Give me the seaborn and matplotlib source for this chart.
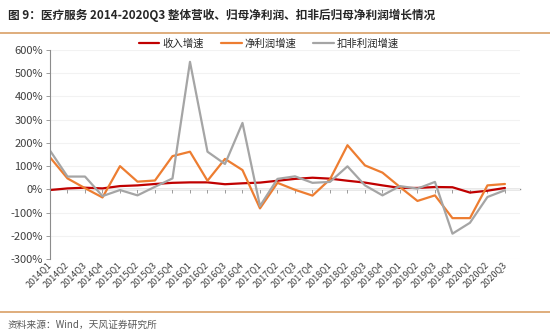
import matplotlib
matplotlib.use("Agg")
import matplotlib.pyplot as plt
import matplotlib.transforms as mtransforms
import seaborn as sns
import pandas as pd
from matplotlib.ticker import FuncFormatter

quarters = [f"{y}Q{q}" for y in range(2014, 2021) for q in range(1, 5)][:27]

revenue = [-3, 4, 7, 4, 14, 17, 23, 28, 30, 30, 22, 26, 29, 37, 45, 50, 46, 37, 29, 17, 6, 6, 10, 9, -14, -6, 6]
net_profit = [138, 47, 5, -35, 100, 33, 38, 143, 162, 37, 131, 83, -82, 28, -2, -27, 43, 190, 103, 72, 10, -50, -26, -124, -124, 17, 23]
deducted = [167, 55, 55, -29, -3, -26, 11, 47, 549, 162, 109, 286, -72, 45, 56, 28, 32, 99, 17, -26, 14, 3, 32, -191, -144, -33, -4]

series_names = ["收入增速", "净利润增速", "扣非利润增速"]
colors = ["#C00000", "#ED7D31", "#A5A5A5"]

df = pd.concat([
    pd.DataFrame({"idx": range(len(quarters)), "value": vals, "series": name})
    for name, vals in zip(series_names, [revenue, net_profit, deducted])
])

sns.set_theme(style="white")
plt.rcParams['font.family'] = ['Noto Sans CJK SC', 'DejaVu Sans']
plt.rcParams['axes.unicode_minus'] = False

fig = plt.figure(figsize=(5.5, 3.34), dpi=100)
ax = fig.add_axes([50/550, 75/334, 470/550, 209/334])

sns.lineplot(data=df, x="idx", y="value", hue="series", palette=colors,
             hue_order=series_names, linewidth=1.6, ax=ax, legend=True)

ax.set_xlim(0, 26.86)
ax.set_ylim(-300, 600)
ax.set_yticks(range(-300, 601, 100))
ax.yaxis.set_major_formatter(FuncFormatter(lambda v, p: f"{int(v)}%"))
ax.set_xticks(range(len(quarters)))
ax.set_xticklabels(quarters, rotation=45, ha="right", va="center", rotation_mode="anchor")
offset = mtransforms.ScaledTranslation(4/100, -6/100, fig.dpi_scale_trans)
for lbl in ax.get_xticklabels():
    lbl.set_transform(lbl.get_transform() + offset)
ax.set_xlabel("")
ax.set_ylabel("")
ax.grid(axis="y", color="#F2F2F2", linewidth=0.8)
ax.set_axisbelow(True)

for s in ["top", "right", "bottom"]:
    ax.spines[s].set_visible(False)
ax.spines["left"].set_color("#8C8C8C")
ax.spines["left"].set_linewidth(0.8)
ax.tick_params(axis="y", labelsize=8, colors="#404040", length=3, width=0.6, direction="out", pad=2, left=True)
ax.tick_params(axis="y", color="#8C8C8C")
ax.tick_params(axis="x", labelsize=6.5, labelcolor="#404040", length=0, pad=3)

sec = ax.secondary_xaxis(1/3)
sec.set_xticks(range(len(quarters)))
sec.tick_params(axis="x", length=3, width=0.6, color="#8C8C8C", direction="out", labelbottom=False, labeltop=False)
sec.set_xticklabels([])
sec.spines["bottom"].set_color("#8C8C8C")
sec.spines["bottom"].set_linewidth(1.0)
for s in ["top", "left", "right"]:
    sec.spines[s].set_visible(False)

leg = ax.legend(loc="center", bbox_to_anchor=(0.466, 1.03), ncol=3, frameon=False,
                fontsize=7.5, handlelength=2.0, columnspacing=1.6, handletextpad=0.3)
for t in leg.get_texts():
    t.set_color("#262626")

fig.text(8/550, 1 - 15/334, "图 9：医疗服务 2014-2020Q3 整体营收、归母净利润、扣非后归母净利润增长情况",
         fontsize=8.4, fontweight="bold", color="#262626", va="center", ha="left")
fig.add_artist(plt.Line2D([0, 1], [1 - 33/334, 1 - 33/334], color="#D9A066", linewidth=1.2))
fig.add_artist(plt.Line2D([0, 1], [1 - 312/334, 1 - 312/334], color="#D9A066", linewidth=1.2))
fig.text(8/550, 1 - 325/334, "资料来源：Wind，天风证券研究所", fontsize=7, color="#595959", va="center", ha="left")

fig.savefig("out.png", dpi=100, facecolor="white")
